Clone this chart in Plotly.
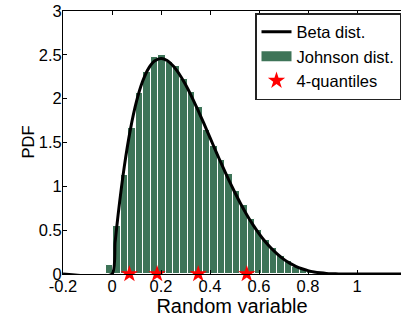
import plotly.graph_objects as go

# ---- data ----
bin_centers = [-0.0093, 0.0211, 0.0515, 0.0819, 0.1123, 0.1427, 0.1731, 0.2035,
               0.2339, 0.2643, 0.2947, 0.3251, 0.3555, 0.3859, 0.4163, 0.4467,
               0.4771, 0.5075, 0.5379, 0.5683, 0.5987, 0.6291, 0.6595, 0.6899,
               0.7203, 0.7507, 0.7811, 0.8115, 0.8419, 0.8723]
johnson_density = [0.10, 0.55, 1.13, 1.67, 2.06, 2.30, 2.47, 2.50,
                   2.42, 2.37, 2.22, 2.08, 1.90, 1.64, 1.46, 1.30,
                   1.14, 0.95, 0.79, 0.63, 0.50, 0.39, 0.30, 0.205,
                   0.148, 0.084, 0.053, 0.023, 0.012, 0.004]
bin_width = 0.0304

beta_x = [-0.2, 0.0, 0.0125, 0.025, 0.05, 0.075, 0.1, 0.125, 0.15, 0.175, 0.2,
          0.225, 0.25, 0.275, 0.3, 0.325, 0.35, 0.375, 0.4, 0.425, 0.45,
          0.475, 0.5, 0.525, 0.55, 0.575, 0.6, 0.625, 0.65, 0.675, 0.7,
          0.725, 0.75, 0.775, 0.8, 0.825, 0.85, 0.875, 0.9, 0.925, 0.95, 1.0, 1.2]
beta_pdf = [0.0, 0.0, 0.357, 0.678, 1.222, 1.647, 1.968, 2.198, 2.349, 2.432, 2.458,
            2.435, 2.373, 2.279, 2.161, 2.024, 1.874, 1.717, 1.555, 1.394, 1.235,
            1.083, 0.938, 0.802, 0.677, 0.563, 0.461, 0.371, 0.293, 0.226, 0.170,
            0.124, 0.088, 0.060, 0.038, 0.023, 0.013, 0.006, 0.003, 0.001, 0.0, 0.0, 0.0]

quantile_x = [0.071, 0.184, 0.352, 0.550]
quantile_y = [0, 0, 0, 0]

x_ticks = [-0.2, 0, 0.2, 0.4, 0.6, 0.8, 1.0]
x_ticktext = ["-0.2", "0", "0.2", "0.4", "0.6", "0.8", "1"]
y_ticks = [0, 0.5, 1, 1.5, 2, 2.5, 3]
y_ticktext = ["0", "0.5", "1", "1.5", "2", "2.5", "3"]

green = "#3E7458"
font_family = "Liberation Sans, Arial, sans-serif"
fs = 16.5

fig = go.Figure()

fig.add_trace(go.Bar(
    x=bin_centers, y=johnson_density, width=bin_width,
    marker=dict(color=green, line=dict(color="white", width=1)),
    name="Johnson dist.", showlegend=False,
))
fig.add_trace(go.Scatter(
    x=beta_x, y=beta_pdf, mode="lines",
    line=dict(color="black", width=3, shape="spline", smoothing=0.6),
    name="Beta dist.",
))
# legend proxy for the histogram (wide green patch)
fig.add_trace(go.Scatter(
    x=[None], y=[None], mode="lines",
    line=dict(color=green, width=15),
    name="Johnson dist.",
))
fig.add_trace(go.Scatter(
    x=quantile_x, y=quantile_y, mode="markers",
    marker=dict(symbol="star", size=13, color="red", line=dict(width=0)),
    name="4-quantiles", cliponaxis=False,
))

plot_left = 63
fig_w, fig_h = 401, 322
px_per_unit = 245.0
x_max = -0.2 + (fig_w - plot_left) / px_per_unit
plot_w = fig_w - plot_left

fig.update_layout(
    width=fig_w, height=fig_h,
    margin=dict(l=plot_left, r=0, t=11, b=48, autoexpand=False),
    paper_bgcolor="white", plot_bgcolor="white",
    font=dict(family=font_family, size=fs, color="black"),
    bargap=0,
    legend=dict(
        x=(255 - plot_left) / plot_w, y=(274 - 13) / 263,
        xanchor="left", yanchor="top",
        bgcolor="white", bordercolor="#222222", borderwidth=1.5,
        font=dict(size=fs, family=font_family, color="black"),
        tracegroupgap=0, itemsizing="trace",
    ),
    xaxis=dict(
        range=[-0.2, x_max], tickvals=x_ticks, ticktext=x_ticktext,
        ticks="inside", ticklen=4, tickcolor="black",
        showline=True, linecolor="black", linewidth=1, mirror="ticks",
        showgrid=False, zeroline=False, automargin=False,
        title=dict(text="Random variable", standoff=0),
        ticklabelstandoff=-3,
    ),
    yaxis=dict(
        range=[0, 3], tickvals=y_ticks, ticktext=y_ticktext,
        ticks="inside", ticklen=4, tickcolor="black",
        showline=True, linecolor="black", linewidth=1,
        showgrid=False, zeroline=False, automargin=False,
        ticklabelstandoff=-3,
    ),
    annotations=[dict(
        text="PDF", textangle=-90, showarrow=False,
        xref="paper", yref="paper",
        x=(27 - plot_left) / plot_w, y=0.5,
        xanchor="center", yanchor="middle",
        font=dict(size=fs, family=font_family, color="black"),
    )],
)

fig.write_html(
    "out.html",
    config={"displayModeBar": False},
    post_script="document.body.style.margin='0';document.body.style.padding='0';",
)
